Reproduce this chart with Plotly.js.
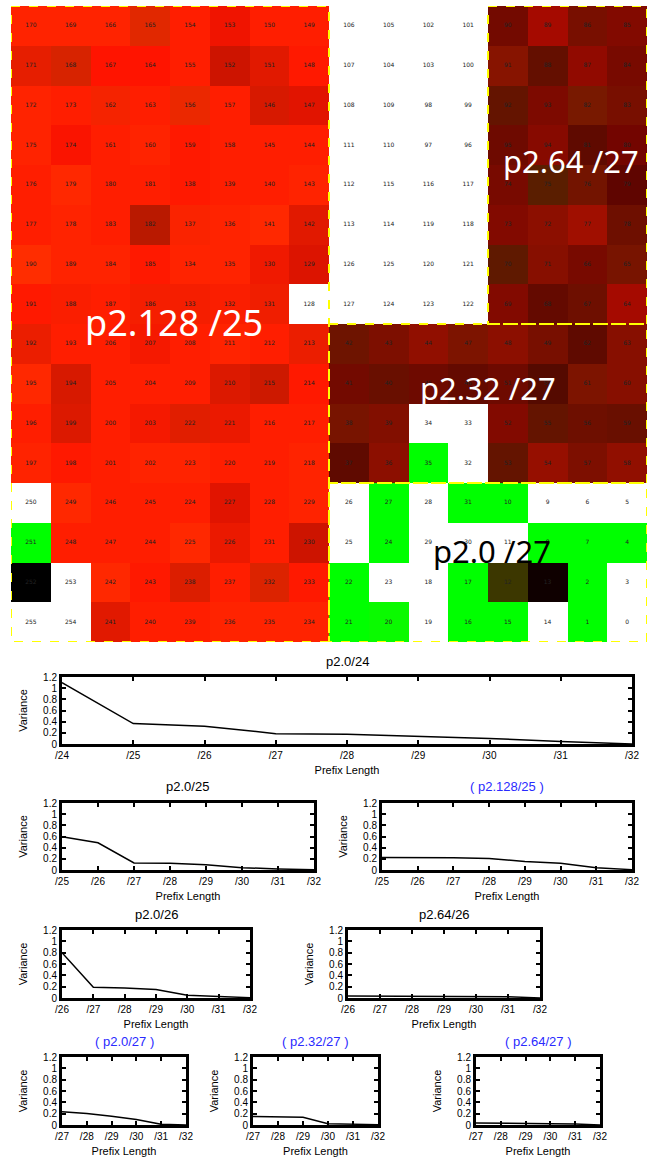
<!DOCTYPE html>
<html><head><meta charset="utf-8">
<script src="https://cdn.plot.ly/plotly-3.0.1.min.js"></script>
<style>html,body{margin:0;padding:0;background:#fff;}#chart{width:656px;height:1157px;}</style>
</head><body><div id="chart"></div>
<script>
// ---------- heat map data (16 x 16, row 0 = top) ----------
const cellIds = [
 [170,169,166,165,154,153,150,149,106,105,102,101,90,89,86,85],
 [171,168,167,164,155,152,151,148,107,104,103,100,91,88,87,84],
 [172,173,162,163,156,157,146,147,108,109,98,99,92,93,82,83],
 [175,174,161,160,159,158,145,144,111,110,97,96,95,94,81,80],
 [176,179,180,181,138,139,140,143,112,115,116,117,74,75,76,79],
 [177,178,183,182,137,136,141,142,113,114,119,118,73,72,77,78],
 [190,189,184,185,134,135,130,129,126,125,120,121,70,71,66,65],
 [191,188,187,186,133,132,131,128,127,124,123,122,69,68,67,64],
 [192,193,206,207,208,211,212,213,42,43,44,47,48,49,62,63],
 [195,194,205,204,209,210,215,214,41,40,45,46,51,50,61,60],
 [196,199,200,203,222,221,216,217,38,39,34,33,52,55,56,59],
 [197,198,201,202,223,220,219,218,37,36,35,32,53,54,57,58],
 [250,249,246,245,224,227,228,229,26,27,28,31,10,9,6,5],
 [251,248,247,244,225,226,231,230,25,24,29,30,11,8,7,4],
 [252,253,242,243,238,237,232,233,22,23,18,17,12,13,2,3],
 [255,254,241,240,239,236,235,234,21,20,19,16,15,14,1,0]
];
// red / green channel of each cell (null = empty, drawn white)
const redLevel = [
 [255,255,255,225,255,240,255,255,null,null,null,null,115,165,120,130],
 [230,215,255,255,255,205,225,255,null,null,null,null,135,100,145,120],
 [255,255,245,255,235,255,215,225,null,null,null,null,100,125,120,120],
 [255,250,255,255,255,255,255,255,null,null,null,null,110,135,95,115],
 [255,255,255,255,255,255,255,255,null,null,null,null,120,90,115,95],
 [255,255,255,185,250,255,255,225,null,null,null,null,130,140,160,110],
 [255,255,255,255,255,255,240,220,null,null,null,null,95,135,120,120],
 [255,250,255,245,245,250,240,null,null,null,null,null,130,100,110,165],
 [235,255,255,245,255,255,255,235,110,125,145,125,140,120,95,135],
 [255,215,255,255,255,220,205,255,115,105,110,100,110,85,125,135],
 [255,220,255,245,225,235,255,255,120,130,null,null,130,100,110,105],
 [255,255,255,255,255,255,255,255,95,140,0,null,100,150,125,145],
 [null,255,255,255,255,225,255,255,null,0,null,0,0,null,null,null],
 [0,255,255,255,255,235,255,205,null,0,null,null,null,0,0,0],
 [0,null,255,255,220,255,220,255,0,null,null,0,60,15,0,null],
 [null,null,225,255,255,255,255,255,0,10,null,0,0,null,0,null]
];
const greenLevel = [
 [35,35,35,40,30,20,30,30,null,null,null,null,10,10,15,10],
 [30,35,20,20,30,20,25,25,null,null,null,null,20,15,10,10],
 [35,30,35,30,40,30,25,20,null,null,null,null,20,10,25,15],
 [35,20,30,35,25,30,30,30,null,null,null,null,10,10,10,5],
 [30,40,30,30,25,30,30,35,null,null,null,null,10,30,20,5],
 [30,35,30,25,35,35,40,25,null,null,null,null,10,15,15,15],
 [45,35,35,25,35,35,25,20,null,null,null,null,25,15,10,20],
 [25,30,30,30,30,30,30,null,null,null,null,null,10,10,15,10],
 [30,30,30,25,30,35,30,30,20,15,15,20,15,15,10,15],
 [40,25,30,30,30,25,25,25,10,15,10,10,10,10,20,15],
 [30,25,30,25,30,25,30,30,20,15,null,null,10,20,15,15],
 [35,25,30,35,35,30,30,35,10,15,255,null,20,15,15,15],
 [null,40,30,30,30,20,30,35,null,255,null,255,255,null,null,null],
 [255,30,30,30,40,25,30,20,null,255,null,null,null,255,255,255],
 [0,null,40,25,30,30,35,25,255,null,null,255,55,0,255,null],
 [null,null,25,30,30,35,35,35,255,250,null,255,255,null,255,null]
];
// prefix regions
const regionNames = ["p2.128 /25","p2.64 /27","p2.32 /27","p2.0 /27"];
const regionCols  = [[0,7],[12,15],[8,15],[8,15]];
const regionRows  = [[0,15],[0,7],[8,11],[12,15]];

// ---------- variance curves ----------
const prefix24 = [24,25,26,27,28,29,30,31,32];
const prefix25 = [25,26,27,28,29,30,31,32];
const prefix26 = [26,27,28,29,30,31,32];
const prefix27 = [27,28,29,30,31,32];
const var_p2_0_24   = [1.10,0.365,0.32,0.185,0.174,0.139,0.099,0.046,0.0];
const var_p2_0_25   = [0.594,0.487,0.125,0.119,0.095,0.042,0.018,0.006];
const var_p2_128_25 = [0.226,0.226,0.22,0.208,0.154,0.119,0.042,0.006];
const var_p2_0_26   = [0.80,0.19,0.177,0.148,0.047,0.024,0.006];
const var_p2_64_26  = [0.035,0.035,0.035,0.035,0.035,0.024,0.0];
const var_p2_0_27   = [0.234,0.204,0.156,0.096,0.012,0.0];
const var_p2_32_27  = [0.15,0.15,0.138,0.024,0.018,0.006];
const var_p2_64_27  = [0.036,0.036,0.03,0.024,0.018,0.0];
const chartTitles = ["p2.0/24","p2.0/25","( p2.128/25 )","p2.0/26","p2.64/26","( p2.0/27 )","( p2.32/27 )","( p2.64/27 )"];

// ---------- build ----------
const W = 656, H = 1157;
const FONT = "Liberation Sans, Arial, sans-serif";
const rgb = cellIds.map((row, r) => row.map((_, c) => {
  const R = redLevel[r][c], G = greenLevel[r][c];
  return (R === null || G === null) ? [255,255,255] : [R, G, 0];
}));
const tx = [], ty = [], tt = [];
cellIds.forEach((row, r) => row.forEach((id, c) => { tx.push(c); ty.push(r); tt.push(String(id)); }));

const traces = [
  {type:'image', z: rgb, x0:0, y0:0, dx:1, dy:1, xaxis:'x', yaxis:'y', hoverinfo:'skip'},
  {type:'scatter', mode:'text', x: tx, y: ty, text: tt, xaxis:'x', yaxis:'y',
   textfont:{family:"DejaVu Sans", size:6, color:'#222'}, hoverinfo:'skip', showlegend:false}
];

const layout = {
  width: W, height: H, margin:{l:0,r:0,t:0,b:0}, showlegend:false,
  paper_bgcolor:'#fff', plot_bgcolor:'#fff', font:{family:FONT, color:'#000'},
  xaxis:{domain:[11/W, 647/W], range:[-0.5,15.5], visible:false, anchor:'y', fixedrange:true},
  yaxis:{domain:[1-642/H, 1-6/H], range:[15.5,-0.5], visible:false, anchor:'x', fixedrange:true},
  shapes: [], annotations: []
};

regionNames.forEach((name, i) => {
  layout.shapes.push({type:'rect', xref:'x', yref:'y',
    x0: regionCols[i][0]-0.5, x1: regionCols[i][1]+0.5,
    y0: regionRows[i][0]-0.5, y1: regionRows[i][1]+0.5,
    line:{color:'#ffff00', width:2, dash:'dash'}});
});
// label placement: [x, y, colour, size]
const labelStyle = [[3.6,7.45,'#fff',36],[13.6,3.4,'#fff',31],[11.5,9.1,'#fff',31],[11.6,13.2,'#000',31]];
regionNames.forEach((name, i) => {
  layout.annotations.push({xref:'x', yref:'y', x: labelStyle[i][0], y: labelStyle[i][1], text: name,
    showarrow:false, xanchor:'center', yanchor:'middle',
    font:{family:'Noto Sans', size:labelStyle[i][3], color: labelStyle[i][2]}});
});

// small line charts: [xs, ys, left px, right px, top px, bottom px]
const charts = [
  [prefix24, var_p2_0_24, 62, 632, 677, 744],
  [prefix25, var_p2_0_25, 62, 314, 803, 870],
  [prefix25, var_p2_128_25, 382, 632, 803, 870],
  [prefix26, var_p2_0_26, 62, 250, 930, 998],
  [prefix26, var_p2_64_26, 348, 540, 930, 998],
  [prefix27, var_p2_0_27, 62, 186, 1057, 1125],
  [prefix27, var_p2_32_27, 253, 378, 1057, 1125],
  [prefix27, var_p2_64_27, 476, 600, 1057, 1125]
];
charts.forEach((ch, i) => {
  const n = i + 2;
  const [xs, ys, l, r, t, b] = ch;
  layout['xaxis'+n] = {domain:[l/W, r/W], anchor:'y'+n, range:[xs[0], xs[xs.length-1]],
    tickvals: xs, ticktext: xs.map(v => '/'+v), ticks:'inside', ticklen:4, tickwidth:2, tickcolor:'#000',
    showline:true, linewidth:3, linecolor:'#000', mirror:'allticks', showgrid:false, zeroline:false,
    tickfont:{family:FONT, size:10}, title:{text:'Prefix Length', font:{family:FONT, size:11}, standoff:7},
    fixedrange:true};
  layout['yaxis'+n] = {domain:[1-b/H, 1-t/H], anchor:'x'+n, range:[0,1.2], dtick:0.2, tick0:0,
    ticks:'inside', ticklen:4, tickwidth:2, tickcolor:'#000',
    showline:true, linewidth:3, linecolor:'#000', mirror:'allticks', showgrid:false, zeroline:false,
    tickfont:{family:FONT, size:10}, title:{text:'Variance', font:{family:FONT, size:11}, standoff:14},
    fixedrange:true};
  traces.push({type:'scatter', mode:'lines', x: xs, y: ys, xaxis:'x'+n, yaxis:'y'+n,
    line:{color:'#000', width:1.5}, hoverinfo:'skip', cliponaxis:true});
  const blue = chartTitles[i].startsWith('(');
  layout.annotations.push({xref:'paper', yref:'paper', x:(l+r)/2/W, y:1-(t-16)/H, text: chartTitles[i],
    showarrow:false, xanchor:'center', yanchor:'middle',
    font:{family:FONT, size:13, color: blue ? '#2a2aff' : '#000'}});
});

Plotly.newPlot('chart', traces, layout, {staticPlot:true, displayModeBar:false});
</script></body></html>
